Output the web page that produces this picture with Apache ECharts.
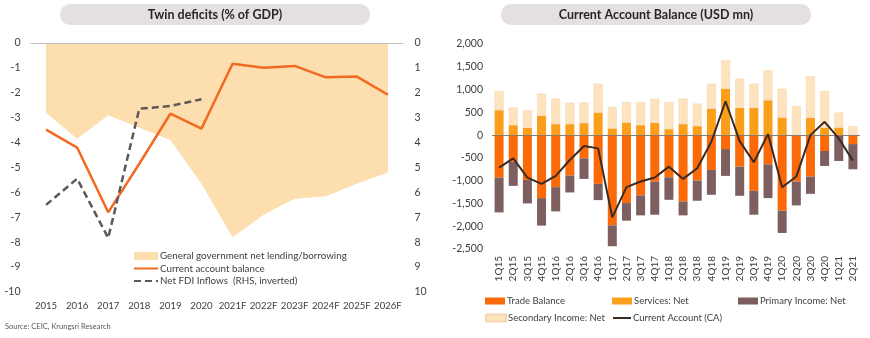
<!DOCTYPE html>
<html>
<head>
<meta charset="utf-8">
<script src="https://cdn.jsdelivr.net/npm/echarts@6/dist/echarts.min.js"></script>
<style>
html,body{margin:0;padding:0;background:#fff;}
#chart{width:870px;height:338px;}
</style>
</head>
<body>
<div id="chart"></div>
<script>
// ---- Left chart: Twin deficits (% of GDP) ----
var years = ['2015','2016','2017','2018','2019','2020','2021F','2022F','2023F','2024F','2025F','2026F'];
var govBalance = [-2.8, -3.85, -2.9, -3.4, -3.9, -5.65, -7.8, -6.9, -6.25, -6.15, -5.65, -5.2];
var caBalance = [-3.48, -4.2, -6.8, -4.85, -2.84, -3.44, -0.83, -0.99, -0.92, -1.38, -1.35, -2.08];
var fdiInflows = [6.5, 5.45, 7.83, 2.64, 2.53, 2.26, null, null, null, null, null, null];

// ---- Right chart: Current Account Balance (USD mn) ----
var quarters = ['1Q15','2Q15','3Q15','4Q15','1Q16','2Q16','3Q16','4Q16','1Q17','2Q17','3Q17','4Q17','1Q18','2Q18','3Q18','4Q18','1Q19','2Q19','3Q19','4Q19','1Q20','2Q20','3Q20','4Q20','1Q21','2Q21'];
var tradeBalance = [-932,-582,-983,-1383,-1143,-888,-510,-1070,-1980,-1492,-1325,-1019,-925,-1456,-997,-764,-306,-692,-1223,-641,-1660,-1019,-910,-349,0,-197];
var servicesNet = [546,218,160,422,240,240,262,495,146,277,218,269,131,240,197,582,1019,597,597,764,386,0,379,160,167,0];
var primaryIncome = [-764,-532,-517,-604,-531,-371,-451,-357,-459,-386,-437,-728,-495,-306,-444,-546,-589,-640,-524,-742,-488,-524,-379,-328,-568,-553];
var secondaryIncome = [422,386,386,488,561,473,451,633,473,451,510,532,597,561,495,546,619,641,531,656,633,641,910,808,328,197];
var currentAccount = [-713,-510,-932,-1070,-895,-546,-240,-291,-1805,-1143,-1019,-932,-692,-961,-728,-146,743,-131,-597,22,-1143,-910,0,291,-73,-560];

var FONT = 'Lato, "Liberation Sans", sans-serif';
var TXT = '#404040';
var HIDE = {color:'rgba(0,0,0,0)', borderColor:'rgba(0,0,0,0)', borderWidth:0};

var chart = echarts.init(document.getElementById('chart'), null, {renderer:'canvas'});

function lg(left, top, items, w){
  return {left:left, top:top, padding:0, itemWidth:w||20, itemHeight:7, itemGap:0,
    textStyle:{fontSize:9.5, color:TXT, fontFamily:FONT, padding:[0,0,0,-3]}, data:items};
}

var option = {
  animation: false,
  backgroundColor: '#fff',
  textStyle: {fontFamily: FONT},
  graphic: [
    {type:'rect', shape:{x:60, y:4, width:310, height:21, r:10}, style:{fill:'#E5E0E0'}},
    {type:'text', x:215, y:14.5, style:{text:'Twin deficits (% of GDP)', font:'bold 12.5px ' + FONT, fill:'#262626', align:'center', verticalAlign:'middle'}},
    {type:'rect', shape:{x:501, y:4, width:310, height:21, r:10}, style:{fill:'#E5E0E0'}},
    {type:'text', x:656, y:14.5, style:{text:'Current Account Balance (USD mn)', font:'bold 12.5px ' + FONT, fill:'#262626', align:'center', verticalAlign:'middle'}},
    {type:'text', x:5, y:323, style:{text:'Source: CEIC, Krungsri Research', font:'7.5px ' + FONT, fill:'#595959'}}
  ],
  grid: [
    {left:30.5, top:43, width:373, height:249, containLabel:false},
    {left:492, top:44, width:368, height:205, containLabel:false}
  ],
  legend: [
    {orient:'vertical', left:133, top:251, padding:0, itemWidth:24, itemHeight:8, itemGap:2.5,
     textStyle:{fontSize:9.8, color:TXT, fontFamily:FONT, padding:[0,0,0,-3]},
     data:[{name:'General government net lending/borrowing', icon:'rect'},
           {name:'Current account balance', itemStyle:HIDE},
           {name:'Net FDI Inflows  (RHS, inverted)', itemStyle:HIDE}]},
    lg(485, 296, [{name:'Trade Balance', icon:'rect'}]),
    lg(612, 296, [{name:'Services: Net', icon:'rect'}]),
    lg(738, 296, [{name:'Primary Income: Net', icon:'rect'}]),
    lg(485, 313, [{name:'Secondary Income: Net', icon:'rect'}]),
    lg(612, 313, [{name:'Current Account (CA)', itemStyle:HIDE}], 18)
  ],
  xAxis: [
    {type:'category', gridIndex:0, data:years, boundaryGap:true,
     axisLine:{show:false, onZero:false}, axisTick:{show:false},
     axisLabel:{color:TXT, fontSize:9.6, margin:9, interval:0, fontFamily:FONT}},
    {type:'category', gridIndex:1, data:quarters, boundaryGap:true,
     axisLine:{show:false, onZero:false}, axisTick:{show:false},
     axisLabel:{color:TXT, fontSize:10, margin:7, interval:0, rotate:90, fontFamily:FONT}}
  ],
  yAxis: [
    {type:'value', gridIndex:0, min:-10, max:0, interval:1, position:'left',
     axisLine:{show:false}, axisTick:{show:false}, splitLine:{show:false},
     axisLabel:{color:TXT, fontSize:10.5, margin:10, fontFamily:FONT}},
    {type:'value', gridIndex:0, min:0, max:10, interval:1, inverse:true, position:'right',
     axisLine:{show:false}, axisTick:{show:false}, splitLine:{show:false},
     axisLabel:{color:TXT, fontSize:10.5, margin:11, fontFamily:FONT}},
    {type:'value', gridIndex:1, min:-2500, max:2000, interval:500,
     axisLine:{show:false}, axisTick:{show:false}, splitLine:{show:false},
     axisLabel:{color:TXT, fontSize:10.5, margin:9, fontFamily:FONT,
       formatter:function(v){return v.toLocaleString('en-US');}}}
  ],
  series: [
    {name:'General government net lending/borrowing', type:'line', xAxisIndex:0, yAxisIndex:0,
     data:govBalance, showSymbol:false, symbol:'none', color:'#FDDEAF',
     lineStyle:{width:0, color:'#FDDEAF'}, areaStyle:{color:'#FDDEAF', opacity:1},
     markLine:{silent:true, symbol:['none','none'], label:{show:false},
       lineStyle:{color:'#BFBFBF', width:1, type:'solid'}, data:[{yAxis:0}]}, z:1},
    {name:'Current account balance', type:'line', xAxisIndex:0, yAxisIndex:0,
     data:caBalance, showSymbol:false, symbol:'none', color:'#F26A21',
     lineStyle:{width:2.5, color:'#F26A21'}, z:3},
    {name:'Net FDI Inflows  (RHS, inverted)', type:'line', xAxisIndex:0, yAxisIndex:1,
     data:fdiInflows, showSymbol:false, symbol:'none', color:'#5F5858',
     lineStyle:{width:2.5, color:'#5F5858', type:[7,4]}, z:4},

    {name:'Trade Balance', type:'bar', xAxisIndex:1, yAxisIndex:2, stack:'ca', data:tradeBalance,
     barWidth:9, color:'#FC6A08', itemStyle:{color:'#FC6A08'}},
    {name:'Services: Net', type:'bar', xAxisIndex:1, yAxisIndex:2, stack:'ca', data:servicesNet,
     barWidth:9, color:'#FB9E1A', itemStyle:{color:'#FB9E1A'}},
    {name:'Primary Income: Net', type:'bar', xAxisIndex:1, yAxisIndex:2, stack:'ca', data:primaryIncome,
     barWidth:9, color:'#7D5F60', itemStyle:{color:'#7D5F60'}},
    {name:'Secondary Income: Net', type:'bar', xAxisIndex:1, yAxisIndex:2, stack:'ca', data:secondaryIncome,
     barWidth:9, color:'#FDE3BE', itemStyle:{color:'#FDE3BE', borderColor:'#F2D6B0', borderWidth:0.5},
     markLine:{silent:true, symbol:['none','none'], label:{show:false},
       lineStyle:{color:'#8A7A70', width:1, type:'solid'}, data:[{yAxis:0}]}},
    {name:'Current Account (CA)', type:'line', xAxisIndex:1, yAxisIndex:2, data:currentAccount,
     showSymbol:false, symbol:'none', color:'#3A2A22', lineStyle:{width:2, color:'#3A2A22'}, z:5}
  ]
};
chart.setOption(option);
</script>
</body>
</html>
